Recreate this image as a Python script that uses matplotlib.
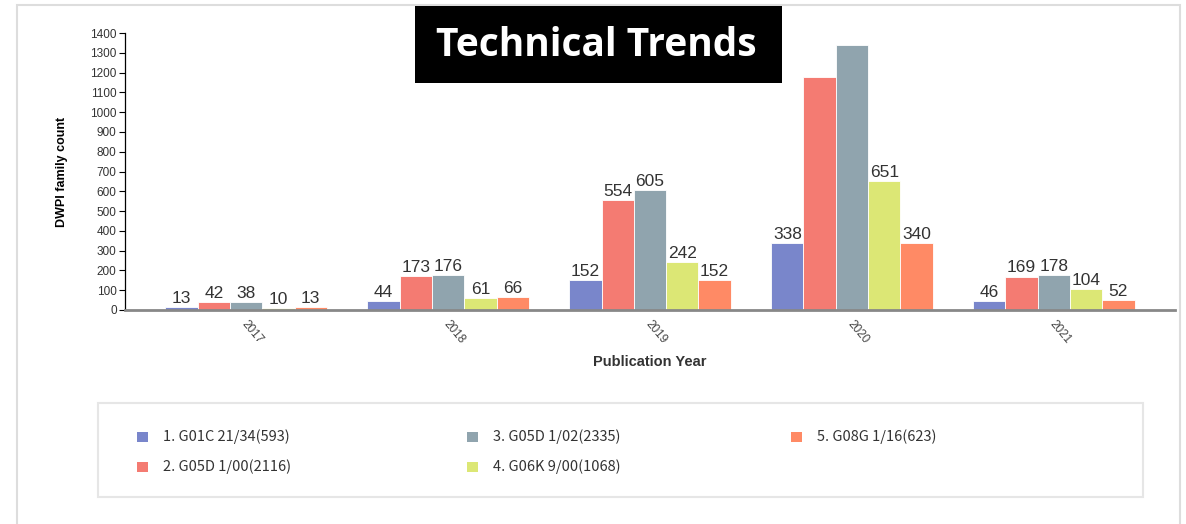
import numpy as np
import matplotlib.pyplot as plt
from matplotlib.patches import Rectangle

# Data
years = ["2017", "2018", "2019", "2020", "2021"]
series_names = [
    "1. G01C 21/34(593)",
    "2. G05D 1/00(2116)",
    "3. G05D 1/02(2335)",
    "4. G06K 9/00(1068)",
    "5. G08G 1/16(623)",
]
g01c_21_34 = [13, 44, 152, 338, 46]
g05d_1_00 = [42, 173, 554, 1178, 169]
g05d_1_02 = [38, 176, 605, 1338, 178]
g06k_9_00 = [10, 61, 242, 651, 104]
g08g_1_16 = [13, 66, 152, 340, 52]
# values without a printed label in the reference
unlabeled = {(1, 3), (2, 3)}

colors = ["#7986CB", "#F47B72", "#90A4AE", "#DCE775", "#FF8A65"]
yticks = np.arange(0, 1401, 100)

W, H = 1186, 524
fig = plt.figure(figsize=(W / 100, H / 100), dpi=100)

def fx(px):
    return px / W

def fy(py):
    return 1 - py / H

# outer panel border
fig.patches.append(Rectangle((fx(17), fy(530)), fx(1180) - fx(17), fy(5) - fy(530),
                             transform=fig.transFigure, fill=False,
                             edgecolor="#dddddd", linewidth=1.5))

ax = fig.add_axes([fx(125), fy(310), fx(1175) - fx(125), fy(33) - fy(310)])

all_series = [g01c_21_34, g05d_1_00, g05d_1_02, g06k_9_00, g08g_1_16]
x = np.arange(len(years))
bw = 0.16
for i, vals in enumerate(all_series):
    pos = x + (i - 2) * bw
    ax.bar(pos, vals, width=bw, color=colors[i], edgecolor="white", linewidth=0.6)
    for j, (p, v) in enumerate(zip(pos, vals)):
        if (i, j) in unlabeled:
            continue
        ax.text(p, v + 6, str(v), ha="center", va="bottom", fontsize=12.5,
                color="#333333", family="Liberation Sans")

ax.set_xlim(-0.6, len(years) - 0.4)
ax.set_ylim(0, 1400)
ax.set_yticks(yticks)
ax.set_yticklabels([str(t) for t in yticks], fontsize=8.5, color="#333333",
                   family="Liberation Sans")
ax.tick_params(axis="y", length=4, width=0.8, pad=2)
ax.set_xticks(x + 0.03)
ax.set_xticklabels(years, rotation=-50, ha="center", va="top", fontsize=8.5,
                   color="#444444", family="Liberation Sans")
ax.tick_params(axis="x", length=0, pad=6)

for s in ["top", "right"]:
    ax.spines[s].set_visible(False)
ax.spines["left"].set_color("#000000")
ax.spines["left"].set_linewidth(0.9)
ax.spines["bottom"].set_color("#888888")
ax.spines["bottom"].set_linewidth(2)

ax.set_ylabel("DWPI family count", fontsize=9, fontweight="bold",
              family="Liberation Sans", labelpad=16)
ax.set_xlabel("Publication Year", fontsize=10.5, fontweight="bold",
              color="#333333", family="Liberation Sans", labelpad=6)

# title box
fig.patches.append(Rectangle((fx(415), fy(83)), fx(782) - fx(415), fy(6) - fy(83),
                             transform=fig.transFigure, facecolor="black",
                             edgecolor="none", zorder=5))
fig.text(fx(596), fy(46), "Technical Trends", color="white", fontsize=28,
         fontweight="bold", family="Open Sans", ha="center", va="center", zorder=6)

# legend panel
fig.patches.append(Rectangle((fx(98), fy(497)), fx(1143) - fx(98), fy(403) - fy(497),
                             transform=fig.transFigure, facecolor="white",
                             edgecolor="#e6e6e6", linewidth=1.5))
col_x = [137, 467, 791]
row_y = [437, 467]
for k, name in enumerate(series_names):
    cx = col_x[k // 2]
    cy = row_y[k % 2]
    fig.patches.append(Rectangle((fx(cx), fy(cy + 5)), fx(11), 10 / H,
                                 transform=fig.transFigure, facecolor=colors[k],
                                 edgecolor="none"))
    fig.text(fx(cx + 26), fy(cy), name, fontsize=10.5, color="#333333",
             family="Noto Sans CJK SC", ha="left", va="center")

fig.savefig("out.png", dpi=100)
